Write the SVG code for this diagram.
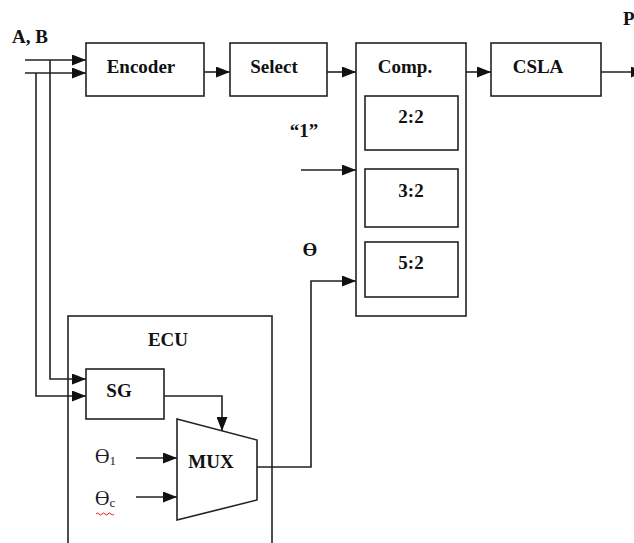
<svg xmlns="http://www.w3.org/2000/svg" width="634" height="543" viewBox="0 0 634 543">
<defs>
<style>
.box{fill:#fff;stroke:#222;stroke-width:1.6}
.ln{fill:none;stroke:#222;stroke-width:1.6}
.arr{fill:none;stroke:#222;stroke-width:1.6;marker-end:url(#ah)}
.t{font-family:"Liberation Serif","Times New Roman",serif;font-weight:bold;font-size:19px;fill:#111;text-anchor:middle}
.th{font-family:"Liberation Serif","Times New Roman",serif;font-size:20px;fill:#1a1a2a}
.sub{font-size:13px}
</style>
<marker id="ah" viewBox="0 0 14 11" refX="14" refY="5.5" markerWidth="14" markerHeight="11" markerUnits="userSpaceOnUse" orient="auto">
<path d="M0,0 L14,5.5 L0,11 Z" fill="#111"/>
</marker>
</defs>
<rect width="634" height="543" fill="#fff"/>

<g id="connectors">
<path class="arr" d="M25,60 L86,60"/>
<path class="arr" d="M25,73 L86,73"/>
<path class="arr" d="M50,60 L50,379 L86,379"/>
<path class="arr" d="M36,73 L36,396 L86,396"/>
<path class="arr" d="M204,72 L230,72"/>
<path class="arr" d="M327,72 L356,72"/>
<path class="arr" d="M466,72 L491,72"/>
<path class="arr" d="M601,72 L645,72"/>
<path class="arr" d="M301,170 L356,170"/>
<path class="arr" d="M257,467 L311,467 L311,281 L356,281"/>
<path class="arr" d="M164,396 L222,396 L222,431"/>
<path class="arr" d="M136,458 L177,458"/>
<path class="arr" d="M136,497 L177,497"/>
</g>

<g id="labels">
<text class="t" x="12" y="43" style="text-anchor:start">A, B</text>
<text class="t" x="623" y="25" style="text-anchor:start">P</text>
<text class="t" x="304" y="137">“1”</text>
<text class="t" x="310" y="256">ϴ</text>
</g>

<g id="encoder">
<rect class="box" x="86" y="43" width="118" height="53"/>
<text class="t" x="141" y="73">Encoder</text>
</g>
<g id="select">
<rect class="box" x="230" y="43" width="97" height="53"/>
<text class="t" x="274" y="73">Select</text>
</g>
<g id="comp">
<rect class="box" x="356" y="43" width="110" height="273"/>
<text class="t" x="405" y="73">Comp.</text>
</g>
<g id="c22">
<rect class="box" x="365" y="96" width="93" height="54"/>
<text class="t" x="411" y="123">2:2</text>
</g>
<g id="c32">
<rect class="box" x="365" y="169" width="93" height="58"/>
<text class="t" x="411" y="197">3:2</text>
</g>
<g id="c52">
<rect class="box" x="365" y="242" width="93" height="55"/>
<text class="t" x="411" y="269">5:2</text>
</g>
<g id="csla">
<rect class="box" x="491" y="43" width="110" height="53"/>
<text class="t" x="538" y="73">CSLA</text>
</g>
<g id="ecu">
<rect class="box" x="68" y="316" width="204" height="250" style="fill:none"/>
<text class="t" x="168" y="346">ECU</text>
</g>
<g id="sg">
<rect class="box" x="86" y="369" width="78" height="50"/>
<text class="t" x="119" y="397">SG</text>
</g>
<g id="mux">
<path class="box" d="M177,419 L257,440 L257,500 L177,520 Z"/>
<text class="t" x="211" y="468">MUX</text>
</g>
<g id="theta1">
<text class="th" x="95" y="463">ϴ<tspan class="sub" dy="2">1</tspan></text>
</g>
<g id="theta2">
<text class="th" x="95" y="505">ϴ<tspan class="sub" dy="2">c</tspan></text>
<path d="M96,514 q1.5,-2 3,0 t3,0 t3,0 t3,0 t3,0 t3,0" fill="none" stroke="#e02020" stroke-width="1"/>
</g>
</svg>
